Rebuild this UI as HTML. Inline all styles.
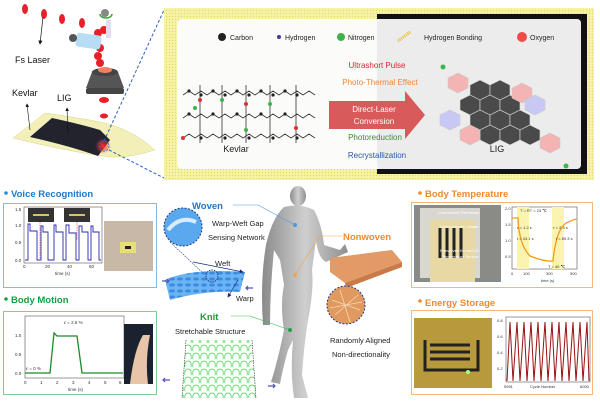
<!DOCTYPE html>
<html><head><meta charset="utf-8"><style>
html,body{margin:0;padding:0;background:#fff;}
svg{display:block;font-family:"Liberation Sans",Arial,sans-serif;}
</style></head><body>
<svg width="600" height="404" viewBox="0 0 600 404" xmlns="http://www.w3.org/2000/svg">
<defs>
<pattern id="dots" width="3" height="3" patternUnits="userSpaceOnUse"><rect width="3" height="3" fill="#f6f3a8"/><circle cx="1.5" cy="1.5" r="0.7" fill="#e4dc6a"/></pattern>
<pattern id="knit" width="8" height="8" patternUnits="userSpaceOnUse"><path d="M1 7 Q0 1 4 1 Q8 1 7 7" fill="none" stroke="#4ad45a" stroke-width="0.8"/></pattern>
<pattern id="weave" width="8" height="6" patternUnits="userSpaceOnUse"><rect width="8" height="6" fill="#6ab4f4"/><ellipse cx="4" cy="3" rx="3" ry="1.6" fill="#3f8ae0"/></pattern>
<radialGradient id="glow"><stop offset="0" stop-color="#ff3030"/><stop offset="1" stop-color="#ff3030" stop-opacity="0"/></radialGradient>
<linearGradient id="body" x1="0" x2="1"><stop offset="0" stop-color="#8a8a8a"/><stop offset="0.5" stop-color="#cfcfcf"/><stop offset="1" stop-color="#8f8f8f"/></linearGradient>
<marker id="ah" markerWidth="6" markerHeight="6" refX="5" refY="3" orient="auto"><path d="M0,0L6,3L0,6z" fill="#111"/></marker>
<marker id="ahb" markerWidth="6" markerHeight="6" refX="5" refY="3" orient="auto"><path d="M0,0L6,3L0,6z" fill="#1a2a7a"/></marker>
</defs>

<!-- top left laser scene -->
<g fill="#e8202a">
<ellipse cx="25" cy="9" rx="3" ry="5"/><ellipse cx="44" cy="14" rx="3" ry="5"/><ellipse cx="62" cy="19" rx="3" ry="5"/><ellipse cx="82" cy="23" rx="3" ry="5"/>
<circle cx="98" cy="33" r="4"/><circle cx="104" cy="30" r="4"/><circle cx="100" cy="48" r="4"/><circle cx="98" cy="56" r="4"/><circle cx="100" cy="63" r="4"/>
<ellipse cx="104" cy="100" rx="5" ry="3"/><ellipse cx="104" cy="116" rx="4" ry="2.5"/><ellipse cx="104" cy="130" rx="3" ry="2"/>
</g>
<rect x="76" y="34" width="25" height="14" rx="3" fill="#b8dcf4" transform="rotate(8 88 41)"/>
<circle cx="73" cy="38" r="4" fill="#555"/><circle cx="105" cy="13" r="4" fill="#888"/><path d="M100 14 a6 4 0 1 0 12 0" stroke="#3a3" fill="none" stroke-width="1.5"/>
<rect x="106" y="20" width="5" height="18" fill="#e6dcf2"/>
<path d="M92 72 L118 72 L124 88 L86 88 Z" fill="#555"/><ellipse cx="105" cy="72" rx="13" ry="4" fill="#444"/><ellipse cx="105" cy="70" rx="7" ry="3" fill="#f08060"/>
<rect x="86" y="88" width="38" height="6" rx="2" fill="#444"/>
<text x="15" y="63" font-size="9" fill="#111">Fs Laser</text>
<line x1="43" y1="17" x2="40" y2="44" stroke="#111" stroke-width="0.7" marker-end="url(#ah)"/>
<path d="M13 138 Q30 125 45 113 Q80 118 100 122 Q130 128 155 150 Q130 158 110 157 Q70 152 13 138Z" fill="#f2f0b8" stroke="#d9d58a" stroke-width="0.5"/>
<path d="M30 137 L52 118 Q80 124 100 130 L110 140 L98 156 Q70 146 30 137Z" fill="#23232e"/>
<circle cx="103" cy="146" r="8" fill="url(#glow)"/>
<circle cx="104" cy="146" r="5" fill="none" stroke="#2a7ad0" stroke-dasharray="2,1.5"/>
<text x="12" y="96" font-size="9" fill="#111">Kevlar</text><text x="57" y="101" font-size="9" fill="#111">LIG</text>
<line x1="30" y1="130" x2="27" y2="104" stroke="#111" stroke-width="0.6" marker-end="url(#ah)"/>
<line x1="68" y1="133" x2="67" y2="108" stroke="#111" stroke-width="0.6" marker-end="url(#ah)"/>
<line x1="104" y1="141" x2="164" y2="10" stroke="#2a5fc0" stroke-width="1" stroke-dasharray="3,2"/>
<line x1="109" y1="150" x2="164" y2="178" stroke="#2a5fc0" stroke-width="1" stroke-dasharray="3,2"/>

<!-- top panel -->
<rect x="164" y="8" width="430" height="172" fill="url(#dots)"/>
<rect x="377" y="14" width="210" height="160" fill="#111"/>
<rect x="177" y="19" width="404" height="150" rx="5" fill="#fbfbfa"/>
<rect x="377" y="19" width="204" height="150" rx="4" fill="#ececec"/>
<g font-size="7" fill="#222">
<circle cx="222" cy="37" r="4" fill="#222"/><text x="230" y="40">Carbon</text>
<circle cx="279" cy="37" r="2" fill="#3a3aa0"/><text x="285" y="40">Hydrogen</text>
<circle cx="341" cy="37" r="4" fill="#3cb44b"/><text x="348" y="40">Nitrogen</text>
<line x1="398" y1="41" x2="410" y2="32" stroke="#e8c020" stroke-width="3" stroke-dasharray="1,1"/><text x="424" y="40">Hydrogen Bonding</text>
<circle cx="522" cy="37" r="5" fill="#f04a4a"/><text x="530" y="40">Oxygen</text>
</g>
<!-- kevlar molecule -->
<g stroke="#333" stroke-width="0.8" fill="none">
<path d="M183 95 l6 -4 l6 4 l6 -4 l6 4 l6 -4 l6 4 l6 -4 l6 4 l6 -4 l6 4 l6 -4 l6 4 l6 -4 l6 4 l6 -4 l6 4 l6 -4 l6 4 l6 -4 l6 4 l6 -4 l6 4"/>
<path d="M183 118 l6 -4 l6 4 l6 -4 l6 4 l6 -4 l6 4 l6 -4 l6 4 l6 -4 l6 4 l6 -4 l6 4 l6 -4 l6 4 l6 -4 l6 4 l6 -4 l6 4 l6 -4 l6 4 l6 -4 l6 4"/>
<path d="M183 138 l6 -4 l6 4 l6 -4 l6 4 l6 -4 l6 4 l6 -4 l6 4 l6 -4 l6 4 l6 -4 l6 4 l6 -4 l6 4 l6 -4 l6 4 l6 -4 l6 4 l6 -4 l6 4 l6 -4 l6 4"/>
<path d="M200 85 v58 M222 85 v58 M246 85 v58 M270 85 v58 M296 85 v58"/>
</g>
<g fill="#222"><circle cx="189" cy="91" r="1.6"/><circle cx="201" cy="95" r="1.6"/><circle cx="213" cy="91" r="1.6"/><circle cx="225" cy="95" r="1.6"/><circle cx="237" cy="91" r="1.6"/><circle cx="249" cy="95" r="1.6"/><circle cx="261" cy="91" r="1.6"/><circle cx="273" cy="95" r="1.6"/><circle cx="285" cy="91" r="1.6"/><circle cx="297" cy="95" r="1.6"/><circle cx="189" cy="114" r="1.6"/><circle cx="213" cy="114" r="1.6"/><circle cx="237" cy="114" r="1.6"/><circle cx="261" cy="114" r="1.6"/><circle cx="285" cy="114" r="1.6"/><circle cx="201" cy="138" r="1.6"/><circle cx="225" cy="138" r="1.6"/><circle cx="249" cy="138" r="1.6"/><circle cx="273" cy="138" r="1.6"/><circle cx="297" cy="138" r="1.6"/></g>
<g fill="#e03030"><circle cx="200" cy="100" r="2"/><circle cx="246" cy="104" r="2"/><circle cx="296" cy="128" r="2"/><circle cx="183" cy="138" r="2"/></g>
<g fill="#3cb44b"><circle cx="222" cy="100" r="2"/><circle cx="270" cy="104" r="2"/><circle cx="195" cy="108" r="2"/><circle cx="246" cy="130" r="2"/></g>
<text x="236" y="152" font-size="9" fill="#222" text-anchor="middle">Kevlar</text>
<!-- arrow -->
<path d="M329 101 L405 101 L405 91 L425 115 L405 139 L405 129 L329 129 Z" fill="#d85a5a"/>
<text x="374" y="112" font-size="8" fill="#fff" text-anchor="middle">Direct-Laser</text>
<text x="374" y="124" font-size="8" fill="#fff" text-anchor="middle">Conversion</text>
<g font-size="8" text-anchor="middle">
<text x="377" y="68" fill="#d9262b">Ultrashort Pulse</text>
<text x="380" y="85" fill="#f0863a">Photo-Thermal Effect</text>
<text x="375" y="140" fill="#3d8a30">Photoreduction</text>
<text x="377" y="158" fill="#2a55a8">Recrystallization</text>
</g>
<!-- LIG graphene -->
<g fill="#4a4a4a" stroke="#ddd" stroke-width="0.6">
<polygon points="470,85 480,80 490,85 490,95 480,100 470,95"/><polygon points="490,85 500,80 510,85 510,95 500,100 490,95"/>
<polygon points="460,100 470,95 480,100 480,110 470,115 460,110"/><polygon points="480,100 490,95 500,100 500,110 490,115 480,110"/><polygon points="500,100 510,95 520,100 520,110 510,115 500,110"/>
<polygon points="470,115 480,110 490,115 490,125 480,130 470,125"/><polygon points="490,115 500,110 510,115 510,125 500,130 490,125"/><polygon points="510,115 520,110 530,115 530,125 520,130 510,125"/>
<polygon points="480,130 490,125 500,130 500,140 490,145 480,140"/><polygon points="500,130 510,125 520,130 520,140 510,145 500,140"/><polygon points="520,130 530,125 540,130 540,140 530,145 520,140"/>
</g>
<g stroke="#ccc" stroke-width="0.6"><polygon points="448,78 458,73 468,78 468,88 458,93 448,88" fill="#f4b4b4"/><polygon points="512,88 522,83 532,88 532,98 522,103 512,98" fill="#f4b4b4"/><polygon points="525,100 535,95 545,100 545,110 535,115 525,110" fill="#c8c8f4"/><polygon points="440,115 450,110 460,115 460,125 450,130 440,125" fill="#c8c8f4"/><polygon points="460,130 470,125 480,130 480,140 470,145 460,140" fill="#f4b4b4"/><polygon points="540,138 550,133 560,138 560,148 550,153 540,148" fill="#f4b4b4"/></g>
<circle cx="443" cy="67" r="2.5" fill="#3cb44b"/><circle cx="566" cy="166" r="2.5" fill="#3cb44b"/>
<text x="497" y="152" font-size="9" fill="#222" text-anchor="middle">LIG</text>

<!-- Voice recognition -->
<circle cx="6" cy="193" r="1.8" fill="#2a8ad8"/>
<text x="11" y="197" font-size="9.5" font-weight="bold" fill="#1e78c8">Voice Recognition</text>
<rect x="3.5" y="203.5" width="153" height="84" fill="#fff" stroke="#8ab8e4"/>
<rect x="24" y="207" width="78" height="56" fill="#fff" stroke="#333" stroke-width="0.5"/>
<rect x="28" y="208" width="26" height="14" fill="#333"/><rect x="64" y="208" width="26" height="14" fill="#333"/>
<rect x="33" y="214" width="16" height="2" fill="#d8c070"/><rect x="69" y="214" width="16" height="2" fill="#d8c070"/>
<path d="M25 260 H28 V224 H30 V231 H37 V260 H41 V226 H43 V232 H48 V260 H54 V225 H56 V232 H63 V260 H66 V225 H69 V233 H76 V260 H79 V226 H82 V232 H88 V260 H91 V226 H93 V232 H99 V260 H101" fill="none" stroke="#2a2ab0" stroke-width="0.9"/>
<line x1="40" y1="222" x2="40" y2="260" stroke="#e03030" stroke-width="0.6" stroke-dasharray="1.5,1"/>
<line x1="77" y1="222" x2="77" y2="240" stroke="#e03030" stroke-width="0.6" stroke-dasharray="1.5,1"/>
<g font-size="4.5" fill="#333"><text x="15" y="262">0.0</text><text x="15" y="244">0.5</text><text x="15" y="227">1.0</text><text x="15" y="211">1.5</text><text x="23" y="268">0</text><text x="45" y="268">20</text><text x="67" y="268">40</text><text x="89" y="268">60</text><text x="55" y="275">time (s)</text></g>
<rect x="104" y="221" width="49" height="50" fill="#c8b8a8"/><rect x="120" y="242" width="16" height="11" fill="#e8e070"/><rect x="125" y="246" width="6" height="3" fill="#222"/>

<!-- Body motion -->
<circle cx="6" cy="299" r="1.8" fill="#1fa04a"/>
<text x="11" y="303" font-size="9.5" font-weight="bold" fill="#14a040">Body Motion</text>
<rect x="3.5" y="311.5" width="153" height="83" fill="#fff" stroke="#7fcf95"/>
<rect x="25" y="316" width="99" height="62" fill="#fff" stroke="#333" stroke-width="0.5"/>
<path d="M25 373 H50 L54 333 L57 336 H77 L82 373 H123" fill="none" stroke="#1a8a2a" stroke-width="1.3"/>
<g font-size="4.5" fill="#333"><text x="15" y="375">0.0</text><text x="15" y="356">0.5</text><text x="15" y="337">1.0</text><text x="26" y="370">ε = 0 %</text><text x="64" y="324">ε = 2.5 %</text><text x="24" y="384">0</text><text x="40" y="384">1</text><text x="56" y="384">2</text><text x="72" y="384">3</text><text x="88" y="384">4</text><text x="104" y="384">5</text><text x="119" y="384">6</text><text x="68" y="391">time (s)</text></g>
<rect x="124" y="324" width="29" height="60" fill="#1a2230"/><path d="M130 384 Q134 350 143 335 L150 335 Q145 360 148 384Z" fill="#e8c4a8"/>

<!-- Human -->
<g fill="url(#body)">
<ellipse cx="298" cy="196" rx="8" ry="10"/>
<path d="M284 207 Q300 203 314 210 Q322 225 324 245 L340 250 L345 244 L348 252 L326 262 Q318 258 316 240 L312 270 Q314 290 308 320 Q304 345 302 375 L308 398 L294 398 Q290 370 293 340 L288 350 Q282 372 280 384 L271 382 Q278 360 284 330 Q280 305 284 285 L280 260 L274 250 Q270 290 270 325 L263 325 Q260 280 266 245 Q272 218 284 207Z"/>
</g>

<!-- Woven -->
<text x="192" y="209" font-size="9.5" font-weight="bold" fill="#1e78c8">Woven</text>
<path d="M233 205 H258 L295 225" fill="none" stroke="#4a9ae0" stroke-width="0.6"/><circle cx="295" cy="225" r="2" fill="#4a9ae0"/>
<text x="212" y="226" font-size="7.5" fill="#222">Warp-Weft Gap</text>
<text x="208" y="240" font-size="7.5" fill="#222">Sensing Network</text>
<circle cx="183" cy="227" r="19" fill="#5aa8ee" stroke="#1a3a8a" stroke-dasharray="2,1.5"/>
<path d="M168 230 Q180 215 196 222" stroke="#d8ecff" stroke-width="4" fill="none"/>
<line x1="170" y1="242" x2="205" y2="275" stroke="#1a3a8a" stroke-width="0.6" stroke-dasharray="1.5,1"/>
<path d="M165 280 Q190 268 245 272 L240 292 Q205 290 170 300 Z" fill="url(#weave)"/>
<circle cx="212" cy="276" r="6" fill="none" stroke="#1a3a8a" stroke-dasharray="1.5,1"/>
<line x1="193" y1="262" x2="243" y2="272" stroke="#1a2a7a" stroke-width="0.7" marker-end="url(#ahb)"/>
<line x1="238" y1="280" x2="228" y2="297" stroke="#1a2a7a" stroke-width="0.7" marker-end="url(#ahb)"/>
<text x="215" y="266" font-size="7.5" fill="#222">Weft</text><text x="236" y="301" font-size="7.5" fill="#222">Warp</text>
<path d="M162 281 h6 M167 279 l2 2 l-2 2" stroke="#5050c0" stroke-width="1.2" fill="none"/>
<path d="M253 288 h-6 M248 286 l-2 2 l2 2" stroke="#5050c0" stroke-width="1.2" fill="none"/>

<!-- Nonwoven -->
<text x="343" y="240" font-size="9.5" font-weight="bold" fill="#f08a2a">Nonwoven</text>
<path d="M342 236 H320 L295 275" fill="none" stroke="#f0a050" stroke-width="0.6"/><circle cx="295" cy="275" r="2" fill="#f0a050"/>
<path d="M330 258 L392 250 L402 262 L345 283 L330 272 Z" fill="#e29a66"/>
<path d="M345 283 L402 262 L402 267 L346 288 Z" fill="#c87a48"/>
<circle cx="346" cy="305" r="19" fill="#e09a60" stroke="#1a3a8a" stroke-dasharray="2,1.5"/>
<path d="M332 300 L360 310 M335 315 L358 295 M340 290 L350 322 M330 308 L362 302" stroke="#f8d8b8" stroke-width="0.8"/>
<text x="330" y="343" font-size="7.5" fill="#222">Randomly Aligned</text>
<text x="332" y="357" font-size="7.5" fill="#222">Non-directionality</text>

<!-- Knit -->
<text x="200" y="320" font-size="9.5" font-weight="bold" fill="#14a040">Knit</text>
<path d="M231 316 H250 L290 330" fill="none" stroke="#3aba5a" stroke-width="0.6"/><circle cx="290" cy="330" r="2" fill="#1fa04a"/>
<text x="175" y="334" font-size="7.5" fill="#222">Stretchable Structure</text>
<polygon points="186,340 252,340 256,398 182,398" fill="url(#knit)"/>
<path d="M186 340 L182 398 M252 340 L256 398" stroke="#333" stroke-width="0.6" stroke-dasharray="1.5,1"/>
<path d="M164 380 h6 M165 378 l-2 2 l2 2" stroke="#5050c0" stroke-width="1.2" fill="none"/>
<path d="M268 386 h6 M273 384 l2 2 l-2 2" stroke="#5050c0" stroke-width="1.2" fill="none"/>

<!-- Body temperature -->
<circle cx="420" cy="193" r="1.8" fill="#f08a2a"/>
<text x="425" y="197" font-size="9.5" font-weight="bold" fill="#f08a2a">Body Temperature</text>
<rect x="411.5" y="202.5" width="181" height="85" fill="#fff" stroke="#f5b77a"/>
<rect x="414" y="205" width="87" height="77" fill="#8a8a86"/>
<rect x="420" y="208" width="60" height="70" fill="#d8d8d0"/><rect x="430" y="220" width="45" height="62" fill="#e8d8a4"/>
<path d="M440 228 v30 M447 228 v30 M454 228 v30 M461 228 v30" stroke="#222" stroke-width="3"/>
<g font-size="4" fill="#fff"><text x="438" y="214">Commercial Thermistor</text><text x="439" y="228">Thermoelectric Heater</text><text x="440" y="252">Nonwoven Kevlar/LIG</text><text x="442" y="258">Temperature Sensor</text></g>
<rect x="512" y="207" width="65" height="62" fill="#fff" stroke="#333" stroke-width="0.5"/>
<rect x="517" y="207" width="12" height="62" fill="#fbf4b0"/><rect x="552" y="207" width="12" height="62" fill="#fbf4b0"/>
<path d="M512 218 H518 Q519 245 530 256 Q545 262 553 261 Q556 230 566 223 Q575 219 577 219" fill="none" stroke="#f39a1e" stroke-width="1.3"/>
<g font-size="4" fill="#333"><text x="505" y="210">2.0</text><text x="505" y="226">1.5</text><text x="505" y="242">1.0</text><text x="505" y="258">0.5</text><text x="520" y="212">T = RT = 23 ℃</text><text x="517" y="229">τ = 1.2 s</text><text x="517" y="240">t = 43.1 s</text><text x="553" y="229">τ = 2.3 s</text><text x="556" y="240">t = 89.3 s</text><text x="548" y="268">T = 40 ℃</text><text x="511" y="275">0</text><text x="523" y="275">100</text><text x="546" y="275">300</text><text x="570" y="275">500</text><text x="541" y="282">time (s)</text></g>

<!-- Energy storage -->
<circle cx="420" cy="301" r="1.8" fill="#f08a2a"/>
<text x="425" y="306" font-size="9.5" font-weight="bold" fill="#f08a2a">Energy Storage</text>
<rect x="411.5" y="310.5" width="181" height="84" fill="#fff" stroke="#f5b77a"/>
<rect x="414" y="318" width="78" height="70" fill="#b89a3c"/>
<path d="M425 340 V370 H478 V340 M430 345 H470 M430 352 H470 M430 359 H470" stroke="#222" stroke-width="3" fill="none"/>
<circle cx="468" cy="372" r="2" fill="#a8ff80"/>
<rect x="506" y="317" width="84" height="65" fill="#fff" stroke="#333" stroke-width="0.5"/>
<path d="M507 381 L510 322 L513 381 L517 322 L520 381 L524 322 L527 381 L531 322 L534 381 L538 322 L541 381 L545 322 L548 381 L552 322 L555 381 L559 322 L562 381 L566 322 L569 381 L573 322 L576 381 L580 322 L583 381 L587 322 L589 381" fill="none" stroke="#9a1010" stroke-width="1"/>
<g font-size="4" fill="#333"><text x="497" y="322">0.8</text><text x="497" y="338">0.6</text><text x="497" y="354">0.4</text><text x="497" y="370">0.2</text><text x="504" y="388">5991</text><text x="530" y="388">Cycle Number</text><text x="580" y="388">6000</text></g>
</svg>
</body></html>
